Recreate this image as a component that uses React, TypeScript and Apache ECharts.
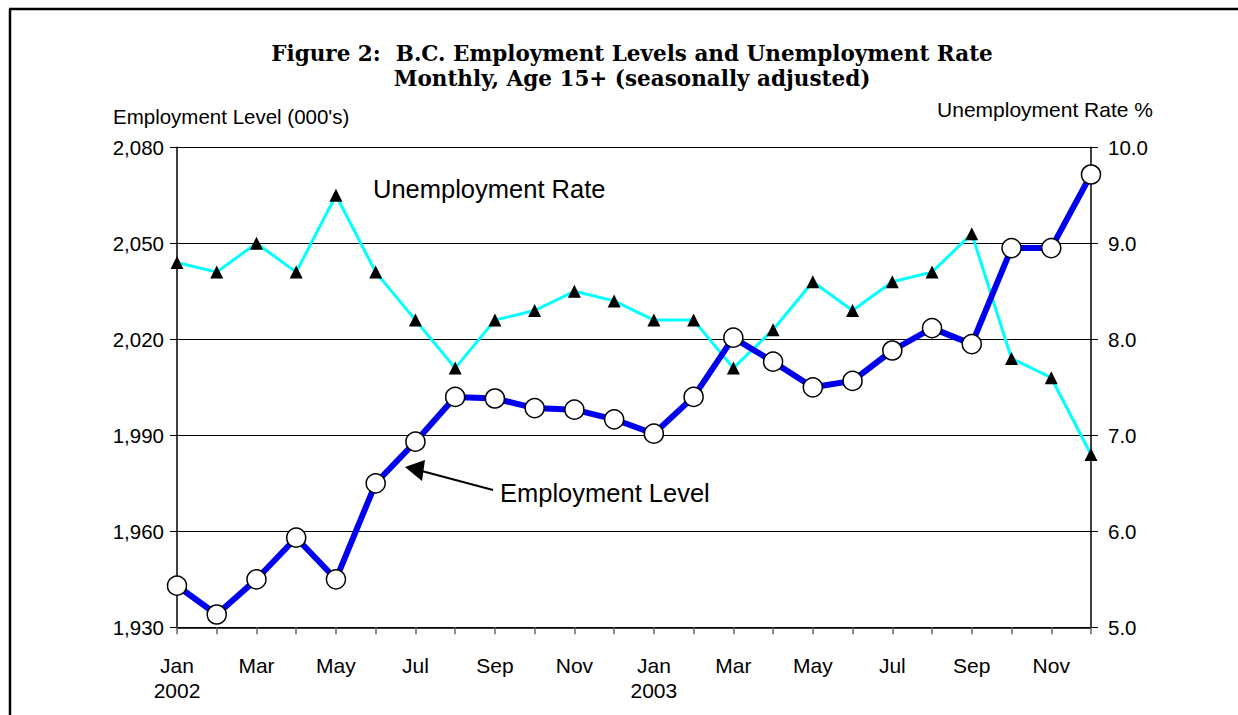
import React, { useEffect, useRef } from "react";
import * as echarts from "echarts";

const months = ["Jan", "Feb", "Mar", "Apr", "May", "Jun", "Jul", "Aug", "Sep", "Oct", "Nov", "Dec",
  "Jan", "Feb", "Mar", "Apr", "May", "Jun", "Jul", "Aug", "Sep", "Oct", "Nov", "Dec"];
const years: Record<number, string> = { 0: "2002", 12: "2003" };
const employment = [1943, 1934, 1945, 1958, 1945, 1975, 1988, 2002, 2001.5, 1998.5, 1998, 1995,
  1990.5, 2002, 2020.5, 2013, 2005, 2007, 2016.5, 2023.5, 2018.5, 2048.5, 2048.5, 2071.5];
const unemployment = [8.8, 8.7, 9.0, 8.7, 9.5, 8.7, 8.2, 7.7, 8.2, 8.3, 8.5, 8.4,
  8.2, 8.2, 7.7, 8.1, 8.6, 8.3, 8.6, 8.7, 9.1, 7.8, 7.6, 6.8];

const titleLines = ["Figure 2:  B.C. Employment Levels and Unemployment Rate", "Monthly, Age 15+ (seasonally adjusted)"];
const SANS = "Liberation Sans, Arial, sans-serif";
const SERIF = "DejaVu Serif, serif";

export default function App() {
  const ref = useRef<HTMLDivElement>(null);
  useEffect(() => {
    const chart = echarts.init(ref.current!, null, { renderer: "svg" });
    chart.setOption({
      animation: false,
      backgroundColor: "#fff",
      grid: { left: 177, right: 147, top: 147.3, bottom: 87.7, containLabel: false },
      xAxis: {
        type: "category",
        data: months.map((m, i) => (years[i] ? m + "\n" + years[i] : m)),
        boundaryGap: false,
        axisLine: { lineStyle: { color: "#000", width: 1.5 } },
        axisTick: { interval: 0, length: 7, lineStyle: { color: "#666", width: 1.5 } },
        axisLabel: {
          interval: 1,
          color: "#000",
          fontFamily: SANS,
          fontSize: 21,
          lineHeight: 25,
          margin: 25.5,
        },
        splitLine: { show: false },
      },
      yAxis: [
        {
          type: "value",
          min: 1930,
          max: 2080,
          interval: 30,
          axisLine: { show: true, lineStyle: { color: "#000", width: 1.5 } },
          axisTick: { show: true, length: 7, lineStyle: { color: "#000" } },
          axisLabel: {
            color: "#000",
            fontFamily: SANS,
            fontSize: 20.5,
            margin: 13,
            formatter: (v: number) => v.toLocaleString("en-US"),
          },
          splitLine: { show: true, lineStyle: { color: "#000", width: 1 } },
        },
        {
          type: "value",
          min: 5,
          max: 10,
          interval: 1,
          position: "right",
          axisLine: { show: true, lineStyle: { color: "#000", width: 1.5 } },
          axisTick: { show: true, length: 7, lineStyle: { color: "#000" } },
          axisLabel: {
            color: "#000",
            fontFamily: SANS,
            fontSize: 20.5,
            margin: 17,
            formatter: (v: number) => v.toFixed(1),
          },
          splitLine: { show: false },
        },
      ],
      series: [
        {
          name: "Unemployment Rate",
          type: "line",
          yAxisIndex: 1,
          data: unemployment,
          lineStyle: { color: "#00FFFF", width: 3 },
          symbol: "triangle",
          symbolSize: 13,
          itemStyle: { color: "#000", borderWidth: 0 },
          z: 2,
        },
        {
          name: "Employment Level",
          type: "line",
          yAxisIndex: 0,
          data: employment,
          lineStyle: { color: "#0000EE", width: 6 },
          symbol: "circle",
          symbolSize: 19,
          itemStyle: { color: "#fff", borderColor: "#000", borderWidth: 1.5 },
          z: 3,
        },
      ],
      graphic: [
        {
          type: "line",
          shape: { x1: 9, y1: 9, x2: 1238, y2: 9 },
          style: { stroke: "#000", lineWidth: 2.5 },
          silent: true,
        },
        {
          type: "line",
          shape: { x1: 10, y1: 9, x2: 10, y2: 715 },
          style: { stroke: "#000", lineWidth: 2.5 },
          silent: true,
        },
        {
          type: "text",
          x: 632,
          y: 53,
          style: { text: titleLines[0], fontFamily: SERIF, fontWeight: "bold", fontSize: 21.5, fill: "#000", align: "center", verticalAlign: "middle" },
        },
        {
          type: "text",
          x: 632,
          y: 78,
          style: { text: titleLines[1], fontFamily: SERIF, fontWeight: "bold", fontSize: 21.5, fill: "#000", align: "center", verticalAlign: "middle" },
        },
        {
          type: "text",
          x: 113,
          y: 116,
          style: { text: "Employment Level (000's)", fontFamily: SANS, fontSize: 20.5, fill: "#000", align: "left", verticalAlign: "middle" },
        },
        {
          type: "text",
          x: 1153,
          y: 109,
          style: { text: "Unemployment Rate %", fontFamily: SANS, fontSize: 21, fill: "#000", align: "right", verticalAlign: "middle" },
        },
        {
          type: "text",
          x: 373,
          y: 189,
          style: { text: "Unemployment Rate", fontFamily: SANS, fontSize: 25.5, fill: "#000", align: "left", verticalAlign: "middle" },
        },
        {
          type: "text",
          x: 500,
          y: 493,
          style: { text: "Employment Level", fontFamily: SANS, fontSize: 25.5, fill: "#000", align: "left", verticalAlign: "middle" },
        },
        {
          type: "line",
          shape: { x1: 493, y1: 490, x2: 418, y2: 470 },
          style: { stroke: "#000", lineWidth: 2 },
        },
        {
          type: "polygon",
          shape: { points: [[405, 467], [425, 460], [422, 481]] },
          style: { fill: "#000" },
        },
      ],
    });
    return () => chart.dispose();
  }, []);
  return (
    <div
      ref={ref}
      style={{ position: "fixed", left: 0, top: 0, width: 1238, height: 715 }}
    />
  );
}
